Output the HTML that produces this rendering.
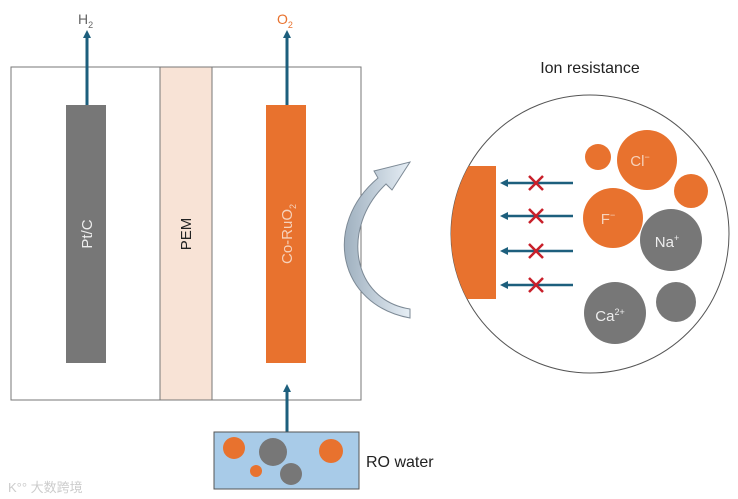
<!DOCTYPE html>
<html><head><meta charset="utf-8"><style>
html,body{margin:0;padding:0;background:#fff;width:738px;height:499px;overflow:hidden}
text{font-family:"Liberation Sans","Noto Sans CJK SC",sans-serif}
</style></head><body>
<svg width="738" height="499" viewBox="0 0 738 499" xmlns="http://www.w3.org/2000/svg">
<defs>
<marker id="ah" markerWidth="8" markerHeight="8" refX="4" refY="4" orient="auto" markerUnits="userSpaceOnUse">
<path d="M0,0 L8,4 L0,8 Z" fill="#1d5f7d"/></marker>
<clipPath id="cc"><circle cx="590" cy="234" r="139"/></clipPath>
<linearGradient id="ag" x1="0" y1="0" x2="1" y2="0"><stop offset="0" stop-color="#9fb0bf"/><stop offset="1" stop-color="#e6eef5"/></linearGradient>
</defs>
<rect x="11" y="67" width="350" height="333" fill="#fff" stroke="#777" stroke-width="1"/>
<rect x="160" y="67" width="52" height="333" fill="#f8e3d6" stroke="#777" stroke-width="1"/>
<rect x="66" y="105" width="40" height="258" fill="#777"/>
<rect x="266" y="105" width="40" height="258" fill="#e8722e"/>
<text transform="translate(92,234) rotate(-90)" text-anchor="middle" font-size="15" fill="#eee">Pt/C</text>
<text transform="translate(191,234) rotate(-90)" text-anchor="middle" font-size="15" fill="#222">PEM</text>
<text transform="translate(292,234) rotate(-90)" text-anchor="middle" font-size="15" fill="#f6d2bb">Co-RuO<tspan font-size="9" dy="4">2</tspan></text>
<line x1="87" y1="105" x2="87" y2="34" stroke="#1d5f7d" stroke-width="3" marker-end="url(#ah)"/>
<line x1="287" y1="105" x2="287" y2="34" stroke="#1d5f7d" stroke-width="3" marker-end="url(#ah)"/>
<line x1="287" y1="432" x2="287" y2="388" stroke="#1d5f7d" stroke-width="3" marker-end="url(#ah)"/>
<text x="78" y="24" font-size="14" fill="#666">H<tspan font-size="9" dy="4">2</tspan></text>
<text x="277" y="24" font-size="14" fill="#e8722e">O<tspan font-size="9" dy="4">2</tspan></text>
<rect x="214" y="432" width="145" height="57" fill="#a8cbe8" stroke="#555" stroke-width="1"/>
<circle cx="234" cy="448" r="11" fill="#e8722e"/>
<circle cx="273" cy="452" r="14" fill="#777"/>
<circle cx="331" cy="451" r="12" fill="#e8722e"/>
<circle cx="256" cy="471" r="6" fill="#e8722e"/>
<circle cx="291" cy="474" r="11" fill="#777"/>
<text x="366" y="467" font-size="16" fill="#222">RO water</text>
<text x="590" y="73" text-anchor="middle" font-size="16" fill="#222">Ion resistance</text>
<path d="M410,318 C338,305 322,225 378,178 L374,171 L410,162 L392,190 L386,184 C340,228 352,300 410,309 Z" fill="url(#ag)" stroke="#7d8a96" stroke-width="1"/>
<circle cx="590" cy="234" r="139" fill="#fff" stroke="#555" stroke-width="1"/>
<rect x="440" y="166" width="56" height="133" fill="#e8722e" clip-path="url(#cc)"/>
<g stroke="#1d5f7d" stroke-width="2.5">
<line x1="573" y1="183" x2="504" y2="183" marker-end="url(#ah)"/>
<line x1="573" y1="216" x2="504" y2="216" marker-end="url(#ah)"/>
<line x1="573" y1="251" x2="504" y2="251" marker-end="url(#ah)"/>
<line x1="573" y1="285" x2="504" y2="285" marker-end="url(#ah)"/>
</g>
<g stroke="#c8202a" stroke-width="2.5">
<path d="M529,176 L543,190 M543,176 L529,190"/>
<path d="M529,209 L543,223 M543,209 L529,223"/>
<path d="M529,244 L543,258 M543,244 L529,258"/>
<path d="M529,278 L543,292 M543,278 L529,292"/>
</g>
<circle cx="598" cy="157" r="13" fill="#e8722e"/>
<circle cx="647" cy="160" r="30" fill="#e8722e"/>
<circle cx="691" cy="191" r="17" fill="#e8722e"/>
<circle cx="613" cy="218" r="30" fill="#e8722e"/>
<circle cx="671" cy="240" r="31" fill="#777"/>
<circle cx="615" cy="313" r="31" fill="#777"/>
<circle cx="676" cy="302" r="20" fill="#777"/>
<text x="640" y="166" font-size="15" fill="#f6d2bb" text-anchor="middle">Cl<tspan font-size="9" dy="-6">−</tspan></text>
<text x="608" y="224" font-size="15" fill="#f6d2bb" text-anchor="middle">F<tspan font-size="9" dy="-6">−</tspan></text>
<text x="667" y="247" font-size="15" fill="#eee" text-anchor="middle">Na<tspan font-size="9" dy="-6">+</tspan></text>
<text x="610" y="321" font-size="15" fill="#eee" text-anchor="middle">Ca<tspan font-size="9" dy="-6">2+</tspan></text>
<text x="8" y="492" font-size="13" fill="#ccc">K°° 大数跨境</text>
</svg>
</body></html>
